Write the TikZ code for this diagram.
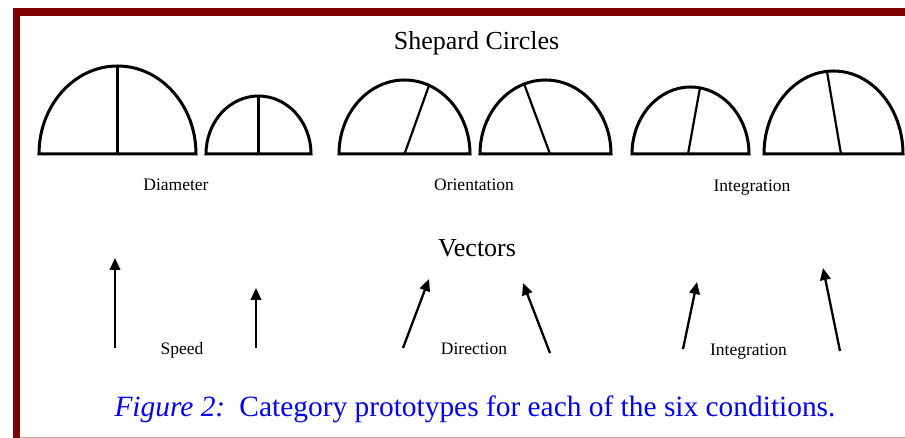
\documentclass[tikz,border=0pt]{standalone}
\usepackage{fontspec}
\setmainfont{Liberation Serif}
\usetikzlibrary{arrows.meta,calc}
\definecolor{framered}{RGB}{128,0,0}
\definecolor{framepink}{RGB}{210,160,160}
\definecolor{capblue}{RGB}{0,0,255}
\begin{document}
\begin{tikzpicture}[x=1pt,y=1pt,
  semi/.style={line width=3pt},
  radius line/.style={line width=2.2pt},
  vec/.style={line width=2.3pt,-{Triangle[length=12pt,width=10.5pt]}},
  title/.style={anchor=base,inner sep=0pt,font=\fontsize{26}{30}\selectfont},
  lab/.style={anchor=base,inner sep=0pt,font=\fontsize{17.5}{20}\selectfont},
  caption/.style={anchor=base,inner sep=0pt,text=capblue,font=\fontsize{29.4}{34}\selectfont}]
\useasboundingbox (0,0) rectangle (905,438);
% frame
\fill[framered] (13,0) rectangle (20,430);
\fill[framered] (13,422) rectangle (905,430);
\draw[framepink,line width=1pt] (20,0.5) -- (905,0.5);
% titles
\node[title] (t1) at (476.5,388) {Shepard Circles};
\node[title] (t2) at (477,181) {Vectors};
% semicircles: centers on base line Y=284
\coordinate (c1) at (117.5,284);
\coordinate (c2) at (258.5,284);
\coordinate (c3) at (404.5,284);
\coordinate (c4) at (545.5,284);
\coordinate (c5) at (690.5,284);
\coordinate (c6) at (833.5,284);
\draw[semi] ($(c1)+(-78.5,0)$) arc[start angle=180,end angle=0,x radius=78.5,y radius=88] -- cycle;
\draw[semi] ($(c2)+(-52.5,0)$) arc[start angle=180,end angle=0,x radius=52.5,y radius=58] -- cycle;
\draw[semi] ($(c3)+(-65.5,0)$) arc[start angle=180,end angle=0,x radius=65.5,y radius=74] -- cycle;
\draw[semi] ($(c4)+(-65.5,0)$) arc[start angle=180,end angle=0,x radius=65.5,y radius=74] -- cycle;
\draw[semi] ($(c5)+(-58.5,0)$) arc[start angle=180,end angle=0,x radius=58.5,y radius=67] -- cycle;
\draw[semi] ($(c6)+(-69.5,0)$) arc[start angle=180,end angle=0,x radius=69.5,y radius=83] -- cycle;
% radius lines
\draw[radius line] (c1) -- ($(c1)+(0,88)$);
\draw[radius line] (c2) -- ($(c2)+(0,58)$);
\draw[radius line] (c3) -- ($(c3)+(68:65.5 and 74)$);
\draw[radius line] ($(c4)+(4.5,0)$) -- ($(c4)+(109:65.5 and 74)$);
\draw[radius line] ($(c5)+(-2.5,0)$) -- ($(c5)+(80.7:58.5 and 67)$);
\draw[radius line] ($(c6)+(7.5,0)$) -- ($(c6)+(95.4:69.5 and 83)$);
% labels
\node[lab] (l1) at (176,247) {Diameter};
\node[lab] (l2) at (474,247) {Orientation};
\node[lab] (l3) at (752,246) {Integration};
\node[lab] (l4) at (182,83) {Speed};
\node[lab] (l5) at (474,83) {Direction};
\node[lab] (l6) at (748.5,82) {Integration};
% vectors
\coordinate (a1s) at (115,90);  \coordinate (a1e) at (115,180);
\coordinate (a2s) at (256,90);  \coordinate (a2e) at (256,150);
\coordinate (a3s) at (403,90);  \coordinate (a3e) at (429,159);
\coordinate (a4s) at (550,85);  \coordinate (a4e) at (523,155);
\coordinate (a5s) at (683,89);  \coordinate (a5e) at (697,156);
\coordinate (a6s) at (840,87);  \coordinate (a6e) at (823,170);
\draw[vec] (a1s) -- (a1e);
\draw[vec] (a2s) -- (a2e);
\draw[vec] (a3s) -- (a3e);
\draw[vec] (a4s) -- (a4e);
\draw[vec] (a5s) -- (a5e);
\draw[vec] (a6s) -- (a6e);
% caption
\node[caption] (cap) at (475,21) {\textit{Figure 2:}\hspace{0.15em} Category prototypes for each of the six conditions.};
\end{tikzpicture}
\end{document}
